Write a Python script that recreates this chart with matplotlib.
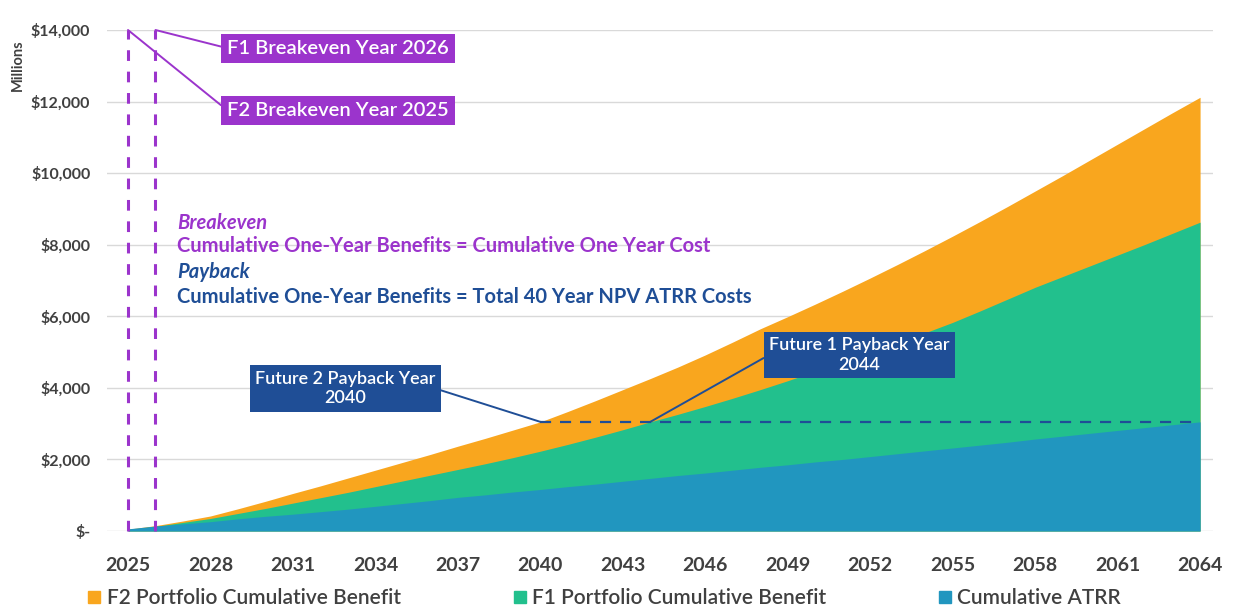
import numpy as np
import matplotlib
matplotlib.use("Agg")
import matplotlib.pyplot as plt
from matplotlib.lines import Line2D

plt.rcParams['font.family'] = ['Lato', 'DejaVu Sans']

# ---- data (millions of dollars) ----
years = list(range(2025, 2065))

f2_benefit = [50, 150, 280, 420, 620, 830, 1050, 1260, 1480, 1700,
              1920, 2140, 2370, 2590, 2820, 3050, 3340, 3640, 3950, 4260,
              4580, 4920, 5280, 5650, 5990, 6340, 6700, 7070, 7450, 7840,
              8240, 8650, 9070, 9500, 9930, 10370, 10810, 11250, 11690, 12120]

f1_benefit = [40, 130, 240, 350, 490, 630, 780, 930, 1080, 1240,
              1400, 1560, 1720, 1880, 2050, 2230, 2420, 2620, 2830, 3050,
              3260, 3480, 3710, 3950, 4200, 4460, 4720, 4990, 5260, 5540,
              5830, 6150, 6480, 6810, 7110, 7410, 7710, 8010, 8320, 8630]

cum_atrr = [60, 140, 200, 260, 340, 410, 470, 540, 610, 690,
            770, 850, 940, 1010, 1090, 1160, 1240, 1310, 1390, 1470,
            1550, 1620, 1700, 1780, 1850, 1930, 2000, 2080, 2160, 2240,
            2320, 2400, 2480, 2570, 2650, 2730, 2810, 2890, 2970, 3050]

breakeven_f1 = 2026
breakeven_f2 = 2025
xtick_years = list(range(2025, 2065, 3))
yticks = [0, 2000, 4000, 6000, 8000, 10000, 12000, 14000]
ytick_labels = ['$-', '$2,000', '$4,000', '$6,000', '$8,000', '$10,000', '$12,000', '$14,000']

# colours
ORANGE = '#F9A61E'
GREEN = '#22C08D'
BLUE = '#2196BF'
PURPLE = '#9B34CC'
NAVY = '#1F4E96'
GREY = '#404040'

yrs = np.array(years)
f2 = np.array(f2_benefit)
f1 = np.array(f1_benefit)
atrr = np.array(cum_atrr)
payback = atrr[-1]  # total 40 year NPV ATRR cost

# year where each portfolio's cumulative benefit reaches the payback level
f2_pay = np.interp(payback, f2, yrs)
f1_pay = np.interp(payback, f1, yrs)

fig = plt.figure(figsize=(12.33, 6.13), dpi=100)
ax = fig.add_axes([107/1233, 1 - 531/613, 1106/1233, 501/613])

ax.fill_between(yrs, 0, f2, color=ORANGE, lw=0, zorder=2)
ax.fill_between(yrs, 0, f1, color=GREEN, lw=0, zorder=3)
ax.fill_between(yrs, 0, atrr, color=BLUE, lw=0, zorder=4)

ax.set_xlim(2024.236, 2064.47)
ax.set_ylim(0, 14000)
ax.set_yticks(yticks)
ax.set_yticklabels(ytick_labels)
ax.set_xticks(xtick_years)
ax.tick_params(axis='y', length=0, pad=12, labelsize=11.5, labelcolor=GREY)
ax.tick_params(axis='x', length=0, pad=19, labelsize=14, labelcolor=GREY)
for lab in ax.get_xticklabels() + ax.get_yticklabels():
    lab.set_fontweight('bold')
ax.grid(axis='y', color='#d9d9d9', lw=1, zorder=1)
for s in ax.spines.values():
    s.set_visible(False)

# payback threshold line
ax.plot([f2_pay, yrs[-1]], [payback, payback], color=NAVY, lw=1.6,
        ls=(0, (5, 4)), zorder=6)

# breakeven lines
for yr in (breakeven_f2, breakeven_f1):
    ax.plot([yr, yr], [0, 14000], color=PURPLE, lw=2.2, ls=(0, (3.5, 3.5)),
            zorder=6, clip_on=False)

box_p = dict(boxstyle='square,pad=0.3', fc=PURPLE, ec='none')
box_n = dict(boxstyle='square,pad=0.3', fc=NAVY, ec='none')

ax.annotate('F1 Breakeven Year %d' % breakeven_f1, xy=(breakeven_f1, 14000),
            xytext=(2028.6, 13495), ha='left', va='center', color='white',
            fontsize=14.5, fontweight='semibold', bbox=box_p, zorder=8,
            arrowprops=dict(arrowstyle='-', color=PURPLE, lw=1.4, relpos=(0, 0.5),
                            shrinkA=0, shrinkB=0))
ax.annotate('F2 Breakeven Year %d' % breakeven_f2, xy=(breakeven_f2, 14000),
            xytext=(2028.6, 11763), ha='left', va='center', color='white',
            fontsize=14.5, fontweight='semibold', bbox=box_p, zorder=8,
            arrowprops=dict(arrowstyle='-', color=PURPLE, lw=1.4, relpos=(0, 0.5),
                            shrinkA=0, shrinkB=0))

ax.annotate('Future 2 Payback Year\n%d' % round(f2_pay), xy=(f2_pay, payback),
            xytext=(2032.9, 3981), ha='center', va='center', color='white',
            fontsize=13, fontweight='semibold', linespacing=1.25, bbox=box_n, zorder=8,
            arrowprops=dict(arrowstyle='-', color=NAVY, lw=1.4, relpos=(1, 0.5),
                            shrinkA=0, shrinkB=0))
ax.annotate('Future 1 Payback Year\n%d' % round(f1_pay), xy=(f1_pay, payback),
            xytext=(2051.6, 4918), ha='center', va='center', color='white',
            fontsize=13, fontweight='semibold', linespacing=1.25, bbox=box_n, zorder=8,
            arrowprops=dict(arrowstyle='-', color=NAVY, lw=1.4, relpos=(0, 0.5),
                            shrinkA=0, shrinkB=0))

# definitions text
tx = 2026.8
ax.text(tx, 8610, 'Breakeven', color=PURPLE, fontsize=14.5, fontweight='bold',
        fontstyle='italic', va='center', zorder=7)
ax.text(tx, 7960, 'Cumulative One-Year Benefits = Cumulative One Year Cost',
        color=PURPLE, fontsize=14.5, fontweight='bold', va='center', zorder=7)
ax.text(tx, 7240, 'Payback', color=NAVY, fontsize=14.5, fontweight='bold',
        fontstyle='italic', va='center', zorder=7)
ax.text(tx, 6550, 'Cumulative One-Year Benefits = Total 40 Year NPV ATRR Costs',
        color=NAVY, fontsize=14.5, fontweight='bold', va='center', zorder=7)

fig.text(18/1233, 1 - 65/613, 'Millions', rotation=90, ha='center', va='center',
         fontsize=10.5, fontweight='bold', color=GREY)

handles = [Line2D([], [], ls='none', marker='s', ms=9, color=ORANGE),
           Line2D([], [], ls='none', marker='s', ms=9, color=GREEN),
           Line2D([], [], ls='none', marker='s', ms=9, color=BLUE)]
labels = ['F2 Portfolio Cumulative Benefit', 'F1 Portfolio Cumulative Benefit',
          'Cumulative ATRR']
leg = fig.legend(handles, labels, ncol=3, loc='center left',
                 bbox_to_anchor=(88/1233, 1 - 598/613), frameon=False,
                 fontsize=15, handlelength=0.6, handletextpad=0.3,
                 columnspacing=5.4, borderaxespad=0, borderpad=0)
for t in leg.get_texts():
    t.set_color(GREY)
    t.set_fontweight('semibold')

fig.savefig('out.png', dpi=100)
